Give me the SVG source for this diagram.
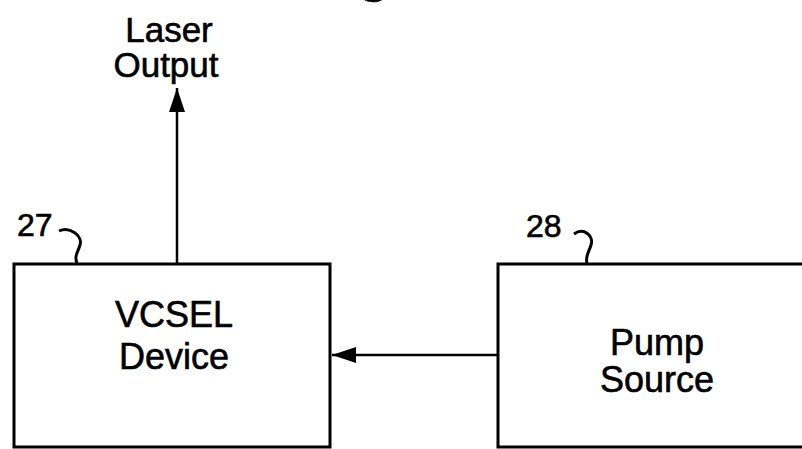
<svg xmlns="http://www.w3.org/2000/svg" width="802" height="449" viewBox="0 0 802 449">
<style>
text{font-family:"Liberation Sans",Arial,sans-serif;fill:#000;stroke:#000;stroke-width:0.6}
.lbl{font-size:36px;text-anchor:middle}
.top{font-size:35px;text-anchor:middle}
.num{font-size:32px}
.box{fill:#fff;stroke:#000;stroke-width:3}
.ln{fill:none;stroke:#000;stroke-width:2.5}
.sq{fill:none;stroke:#000;stroke-width:3}
</style>
<defs>
<marker id="ah" markerUnits="userSpaceOnUse" markerWidth="26" markerHeight="18" refX="24" refY="8" orient="auto">
<path d="M0,0 L24,8 L0,16 Z" fill="#000"/>
</marker>
</defs>
<text x="357" y="-10" style="font-size:60px">g</text>
<g id="vcsel">
<rect class="box" x="14" y="264" width="316" height="183"/>
<text class="lbl" x="174" y="327">VCSEL</text>
<text class="lbl" x="174" y="369">Device</text>
</g>
<g id="pump">
<rect class="box" x="498" y="264" width="310" height="183"/>
<text class="lbl" x="657" y="355">Pump</text>
<text class="lbl" x="657" y="392">Source</text>
</g>
<g id="output">
<text class="top" x="169" y="42">Laser</text>
<text class="top" x="166" y="77">Output</text>
</g>
<g id="ref27">
<text class="num" x="17" y="236">27</text>
<path class="sq" d="M59,231 C70,226 83,236 80,245 C78,252 74,256 77,263"/>
</g>
<g id="ref28">
<text class="num" x="526" y="237">28</text>
<path class="sq" d="M574,234 C584,227 594,236 591,245 C589,252 585,256 587,263"/>
</g>
<g id="connectors">
<line class="ln" x1="177" y1="263" x2="177" y2="88" marker-end="url(#ah)"/>
<line class="ln" x1="497" y1="355" x2="332" y2="355" marker-end="url(#ah)"/>
</g>
</svg>
